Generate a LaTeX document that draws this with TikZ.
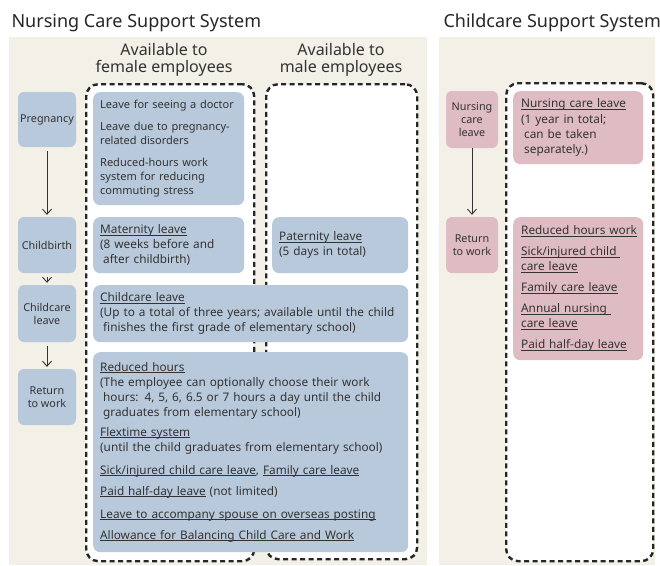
\documentclass[tikz,border=0pt]{standalone}
\usepackage{fontspec}
\setmainfont{Noto Sans}
\usepackage{tikz}
\usetikzlibrary{positioning, arrows.meta}
\definecolor{panelBg}{HTML}{F3F0E8}
\definecolor{stageBlue}{HTML}{B9C9DC}
\definecolor{stagePink}{HTML}{DFBCC3}
\definecolor{ink}{HTML}{333333}
\newsavebox{\lnkbox}
\newcommand{\lnk}[1]{\leavevmode\sbox{\lnkbox}{#1}\rlap{\rule[-1.8pt]{\wd\lnkbox}{0.6pt}}\usebox{\lnkbox}}

\begin{document}
\begin{tikzpicture}[x=1pt, y=-1pt,
  stage/.style={fill=#1, rounded corners=6pt, minimum width=58pt, align=center, inner sep=0pt, text=ink, font=\fontsize{10.8}{13}\selectfont},
  item/.style={fill=#1, rounded corners=7pt, anchor=north west, align=left, inner xsep=7pt, inner ysep=0pt, text=ink, font=\fontsize{11.8}{15}\selectfont},
  group/.style={draw=black!85, line width=2.4pt, dash pattern=on 5pt off 3.5pt, rounded corners=12pt, fill=white, anchor=north west, inner sep=0pt},
  flow/.style={-{Straight Barb[length=5pt, width=9pt]}, line width=0.9pt, draw=black!80},
  head/.style={align=center, text=ink, font=\fontsize{16}{16.5}\selectfont},
  title/.style={anchor=base west, text=black!85, font=\fontsize{18}{20}\selectfont}]
\useasboundingbox (0,0) rectangle (660,565);

% panels and titles
\fill[panelBg] (9,37) rectangle (427,565);
\fill[panelBg] (439,37) rectangle (655,565);
\node[title] (tLeft) at (8,27) {Nursing Care Support System};
\node[title] (tRight) at (440,27) {Childcare Support System};
\node[head] (hFemale) at (164,60) {Available to\\female employees};
\node[head] (hMale) at (341,60) {Available to\\male employees};

% dashed groups
\node[group, minimum width=168pt, minimum height=477pt] (gFemale) at (85,83) {};
\node[group, minimum width=151pt, minimum height=475pt] (gMale) at (265,83) {};
\node[group, minimum width=147pt, minimum height=478pt] (gRight) at (505,82) {};

% stages, left
\node[stage=stageBlue, minimum height=55pt] (sPreg) at (47,119.5) {Pregnancy};
\node[stage=stageBlue, minimum height=56pt] (sBirth) at (47,245) {Childbirth};
\node[stage=stageBlue, minimum height=57pt] (sCare) at (47,313.5) {Childcare\\leave};
\node[stage=stageBlue, minimum height=56pt] (sBack) at (47,397) {Return\\to work};
\foreach \a/\b in {sPreg/sBirth, sBirth/sCare, sCare/sBack}
  \draw[flow, shorten <=4pt, shorten >=2pt] (\a) -- (\b);

% stages, right
\node[stage=stagePink, minimum width=52pt, minimum height=57pt] (sNurse) at (472,119.5) {Nursing\\care\\leave};
\node[stage=stagePink, minimum width=52pt, minimum height=56pt] (sBack2) at (472,245) {Return\\to work};
\draw[flow, shorten >=2pt] (sNurse) -- (sBack2);

% measures, left
\node[item=stageBlue, text width=137pt, minimum height=113pt, font=\fontsize{11}{14}\selectfont] (mPreg) at (93,92) {%
Leave for seeing a doctor\\[8pt]
Leave due to pregnancy-\\related disorders\\[8pt]
Reduced-hours work\\system for reducing\\commuting stress};
\node[item=stageBlue, text width=137pt, minimum height=56pt] (mMat) at (93,217) {%
\lnk{Maternity leave}\\(8 weeks before and\\\hspace{3pt}after childbirth)};
\node[item=stageBlue, text width=122pt, minimum height=56pt] (mPat) at (272,217) {%
\lnk{Paternity leave}\\(5 days in total)};
\node[item=stageBlue, text width=301pt, minimum height=57pt] (mCare) at (93,285) {%
\lnk{Childcare leave}\\(Up to a total of three years; available until the child\\\hspace{3pt}finishes the first grade of elementary school)};
\node[item=stageBlue, text width=301pt, minimum height=200pt] (mBack) at (93,352) {%
\lnk{Reduced hours}\\(The employee can optionally choose their work\\\hspace{3pt}hours: 4, 5, 6, 6.5 or 7 hours a day until the child\\\hspace{3pt}graduates from elementary school)\\[5pt]
\lnk{Flextime system}\\(until the child graduates from elementary school)\\[8pt]
\lnk{Sick/injured child care leave}, \lnk{Family care leave}\\[6pt]
\lnk{Paid half-day leave} (not limited)\\[8pt]
\lnk{Leave to accompany spouse on overseas posting}\\[6pt]
\lnk{Allowance for Balancing Child Care and Work}};

% measures, right
\node[item=stagePink, text width=114pt, inner xsep=8pt, minimum height=73pt] (mNurse) at (513,91) {%
\lnk{Nursing care leave}\\[1pt](1 year in total;\\\hspace{3pt}can be taken\\\hspace{3pt}separately.)};
\node[item=stagePink, text width=114pt, inner xsep=8pt, minimum height=143pt] (mBack2) at (513,217) {%
\lnk{Reduced hours work}\\[6pt]
\lnk{Sick/injured child }\\\lnk{care leave}\\[6pt]
\lnk{Family care leave}\\[6pt]
\lnk{Annual nursing }\\\lnk{care leave}\\[6pt]
\lnk{Paid half-day leave}};
\end{tikzpicture}
\end{document}
